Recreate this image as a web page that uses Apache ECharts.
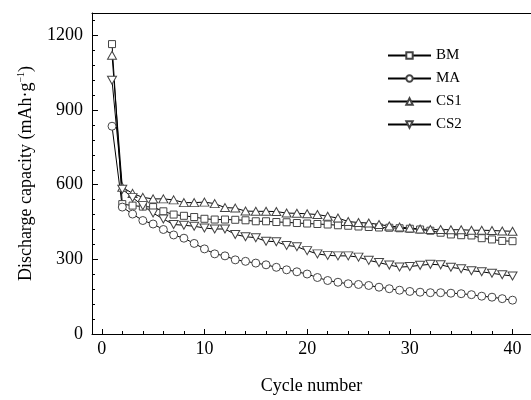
<!DOCTYPE html>
<html>
<head>
<meta charset="utf-8">
<script src="https://cdn.jsdelivr.net/npm/echarts@6/dist/echarts.min.js"></script>
<style>
  html, body { margin: 0; padding: 0; background: #fff; }
  #chart { width: 531px; height: 400px; }
</style>
</head>
<body>
<div id="chart"></div>
<script>
// cycle index 1..40
const cycles = [1, 2, 3, 4, 5, 6, 7, 8, 9, 10, 11, 12, 13, 14, 15, 16, 17, 18, 19, 20,
  21, 22, 23, 24, 25, 26, 27, 28, 29, 30, 31, 32, 33, 34, 35, 36, 37, 38, 39, 40];

const bm = [1165, 522, 516, 512, 510, 493, 480, 475, 470, 463, 460, 460, 459, 457, 453, 453, 450, 449, 446, 444,
  442, 440, 437, 435, 432, 430, 428, 427, 425, 423, 420, 415, 407, 400, 397, 396, 385, 380, 374, 373];
const ma = [835, 510, 482, 456, 442, 420, 398, 385, 364, 342, 322, 314, 298, 292, 285, 278, 268, 258, 250, 241,
  227, 215, 208, 202, 199, 195, 188, 182, 176, 171, 168, 166, 166, 164, 162, 158, 152, 148, 142, 136];
const cs1 = [1120, 590, 565, 549, 543, 543, 539, 528, 528, 530, 524, 508, 506, 494, 493, 493, 492, 486, 485, 483,
  480, 473, 466, 452, 448, 446, 440, 434, 430, 426, 422, 420, 420, 419, 419, 417, 417, 416, 414, 413];
const cs2 = [1020, 582, 548, 516, 486, 462, 440, 437, 433, 426, 422, 422, 400, 391, 387, 373, 371, 356, 351, 335,
  322, 316, 314, 314, 309, 296, 287, 277, 269, 271, 276, 280, 278, 268, 262, 254, 250, 244, 238, 233];

const xTicks = [0, 10, 20, 30, 40];
const xMinor = [2, 4, 6, 8, 12, 14, 16, 18, 22, 24, 26, 28, 32, 34, 36, 38];
const yTicks = [0, 300, 600, 900, 1200];
const yMinor = [60, 120, 180, 240, 360, 420, 480, 540, 660, 720, 780, 840, 960, 1020, 1080, 1140, 1260];

const font = "'Liberation Serif', 'Times New Roman', serif";

function pairs(vals) {
  return cycles.map((c, i) => [c, vals[i]]);
}

function mkSeries(name, vals, symbol, size, rotate) {
  return {
    name: name,
    type: 'line',
    data: pairs(vals),
    symbol: symbol,
    symbolSize: size,
    symbolRotate: rotate || 0,
    showAllSymbol: true,
    lineStyle: { color: '#000', width: 1 },
    itemStyle: { color: '#fff', borderColor: '#444', borderWidth: 1 },
    emphasis: { disabled: true }
  };
}

const chart = echarts.init(document.getElementById('chart'));
chart.setOption({
  animation: false,
  grid: { left: 92, top: 13, right: 0, bottom: 61 },
  legend: {
    orient: 'vertical',
    left: 382,
    top: 43,
    itemWidth: 43,
    itemHeight: 8,
    itemGap: 8,
    data: ['BM', 'MA', 'CS1', 'CS2'],
    textStyle: { fontFamily: font, fontSize: 15, color: '#000' }
  },
  xAxis: [
    {
      type: 'value', min: -0.95, max: 41.8, position: 'bottom',
      axisLine: { onZero: false, lineStyle: { color: '#000', width: 1 } },
      axisTick: { inside: true, length: 5, customValues: xTicks, lineStyle: { color: '#000' } },
      axisLabel: { customValues: xTicks, margin: 6, color: '#000', fontFamily: font, fontSize: 18,
        formatter: v => String(v) },
      splitLine: { show: false },
      name: 'Cycle number', nameLocation: 'middle', nameGap: 43,
      nameTextStyle: { fontFamily: font, fontSize: 18, color: '#000' }
    },
    {
      type: 'value', min: -0.95, max: 41.8, position: 'bottom',
      axisLine: { show: false, onZero: false },
      axisTick: { inside: true, length: 3, customValues: xMinor, lineStyle: { color: '#000' } },
      axisLabel: { show: false },
      splitLine: { show: false }
    },
    {
      type: 'value', min: -0.95, max: 41.8, position: 'top',
      axisLine: { onZero: false, lineStyle: { color: '#000', width: 1 } },
      axisTick: { show: false },
      axisLabel: { show: false },
      splitLine: { show: false }
    }
  ],
  yAxis: [
    {
      type: 'value', min: 0, max: 1290, position: 'left',
      axisLine: { show: true, onZero: false, lineStyle: { color: '#000', width: 1 } },
      axisTick: { show: true, inside: true, length: 6, customValues: yTicks, lineStyle: { color: '#000' } },
      axisLabel: { customValues: yTicks, margin: 9, color: '#000', fontFamily: font, fontSize: 18,
        formatter: v => String(v) },
      splitLine: { show: false },
      name: 'Discharge capacity (mAh·g{sup|−1})',
      nameLocation: 'middle', nameGap: 53, nameRotate: 90,
      nameTextStyle: {
        fontFamily: font, fontSize: 18, color: '#000', lineHeight: 20,
        rich: { sup: { fontFamily: font, fontSize: 10, color: '#000', verticalAlign: 'top', lineHeight: 20 } }
      }
    },
    {
      type: 'value', min: 0, max: 1290, position: 'left',
      axisLine: { show: false, onZero: false },
      axisTick: { show: true, inside: true, length: 3, customValues: yMinor, lineStyle: { color: '#000' } },
      axisLabel: { show: false },
      splitLine: { show: false }
    }
  ],
  series: [
    mkSeries('BM', bm, 'rect', 7),
    mkSeries('MA', ma, 'circle', 8),
    mkSeries('CS1', cs1, 'triangle', [9, 8]),
    mkSeries('CS2', cs2, 'triangle', [9, 8], 180)
  ]
});
</script>
</body>
</html>
